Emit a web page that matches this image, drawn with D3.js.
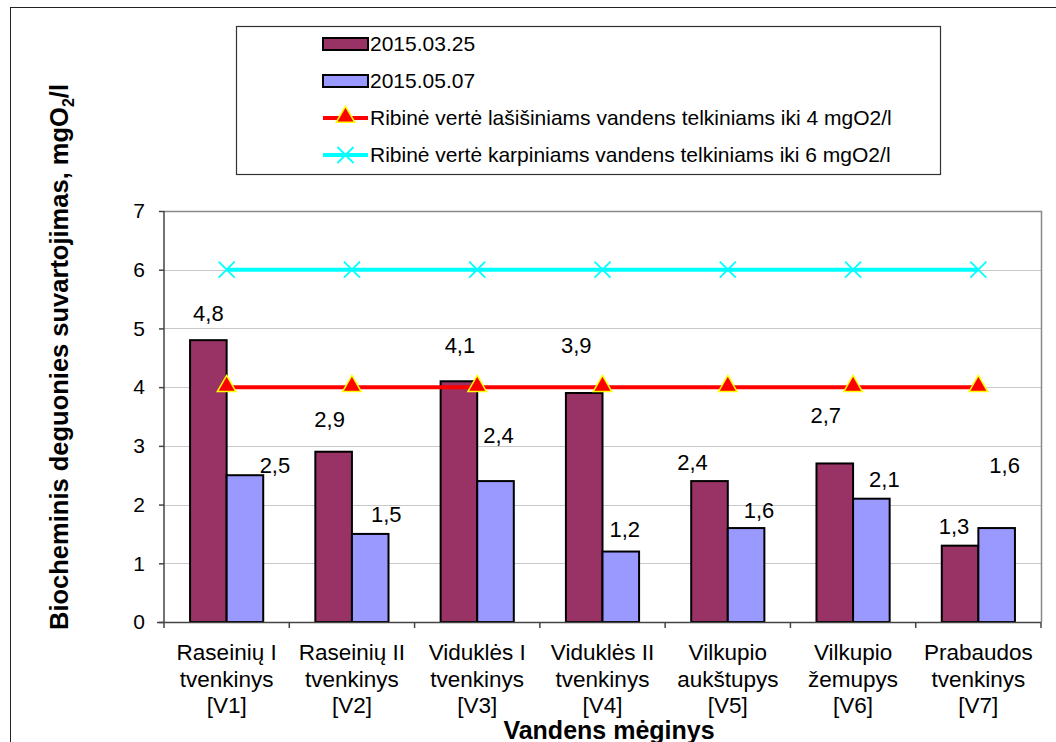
<!DOCTYPE html>
<html>
<head>
<meta charset="utf-8">
<script src="https://cdn.jsdelivr.net/npm/d3@7"></script>
<style>
  body { margin: 0; background: #fff; }
  svg text { font-family: "Liberation Sans", Arial, sans-serif; fill: #000; }
</style>
</head>
<body>
<svg width="1056" height="742"></svg>
<script>
// data
var categories = [
  ["Raseinių I", "tvenkinys", "[V1]"],
  ["Raseinių II", "tvenkinys", "[V2]"],
  ["Viduklės I", "tvenkinys", "[V3]"],
  ["Viduklės II", "tvenkinys", "[V4]"],
  ["Vilkupio", "aukštupys", "[V5]"],
  ["Vilkupio", "žemupys", "[V6]"],
  ["Prabaudos", "tvenkinys", "[V7]"]
];
var seriesNames = ["2015.03.25", "2015.05.07"];
var march = [4.8, 2.9, 4.1, 3.9, 2.4, 2.7, 1.3];
var may = [2.5, 1.5, 2.4, 1.2, 1.6, 2.1, 1.6];
var salmonLimit = [4, 4, 4, 4, 4, 4, 4];
var carpLimit = [6, 6, 6, 6, 6, 6, 6];
var lineNames = ["Ribinė vertė lašišiniams vandens telkiniams iki 4 mgO2/l",
                 "Ribinė vertė karpiniams vandens telkiniams iki 6 mgO2/l"];
var yTicks = [0, 1, 2, 3, 4, 5, 6, 7];

// label placement (Excel put them a bit all over the place), px from bar top centre
var marchLabelOff = [[0, -27], [-4, -32], [1, -36], [-8, -48], [-17, -19], [-9, -48], [-6, -19]];
var mayLabelOff = [[30, -10], [16, -20], [3, -46], [4, -22], [13, -18], [13, -19], [8, -63]];

var svg = d3.select("svg"),
    pLeft = 164, pRight = 1041, pTop = 211, pBottom = 622;

var font = "Liberation Sans, Arial, sans-serif";

// outer chart frame
svg.append("rect")
    .attr("x", 10.5).attr("y", 7.5)
    .attr("width", 1100).attr("height", 800)
    .attr("fill", "none").attr("stroke", "#222").attr("stroke-width", 1);

var x = d3.scaleBand().domain(d3.range(categories.length)).range([pLeft, pRight]);
var gap = x.bandwidth() * 0.208;
var x1 = d3.scaleBand().domain([0, 1]).range([gap, x.bandwidth() - gap]);
var y = d3.scaleLinear().domain([0, 7]).range([pBottom, pTop]);

// gridlines
svg.append("g").selectAll("line").data(yTicks.slice(1, -1)).enter().append("line")
    .attr("x1", pLeft).attr("x2", pRight)
    .attr("y1", function(d) { return Math.round(y(d)) + 0.5; })
    .attr("y2", function(d) { return Math.round(y(d)) + 0.5; })
    .attr("stroke", "#c8c8c8").attr("stroke-width", 1.2);

// plot area border (top / right)
svg.append("path")
    .attr("d", "M" + pLeft + "," + (pTop + 0.5) + "H" + (pRight + 0.5) + "V" + pBottom)
    .attr("fill", "none").attr("stroke", "#888").attr("stroke-width", 1.5);

// bars
var colors = ["#993366", "#9999ff"];
var seriesVals = [march, may];
seriesVals.forEach(function(vals, s) {
  svg.append("g").selectAll("rect").data(vals).enter().append("rect")
      .attr("x", function(d, i) { return x(i) + x1(s); })
      .attr("y", function(d) { return y(d); })
      .attr("width", x1.bandwidth())
      .attr("height", function(d) { return y(0) - y(d); })
      .attr("fill", colors[s])
      .attr("stroke", "#000").attr("stroke-width", 2);
});

// limit lines
var cx = function(d, i) { return x(i) + x.bandwidth() / 2; };
var lineGen = d3.line().x(cx).y(function(d) { return y(d); });

svg.append("path").datum(carpLimit).attr("d", lineGen)
    .attr("fill", "none").attr("stroke", "#00ffff").attr("stroke-width", 4);
svg.append("path").datum(salmonLimit).attr("d", lineGen)
    .attr("fill", "none").attr("stroke", "#ff0000").attr("stroke-width", 4);

var tri = d3.symbol().type(d3.symbolTriangle).size(150);
svg.append("g").selectAll("path").data(salmonLimit).enter().append("path")
    .attr("d", tri)
    .attr("transform", function(d, i) { return "translate(" + cx(d, i) + "," + (y(d) - 1) + ")"; })
    .attr("fill", "#ff0000").attr("stroke", "#ffff00").attr("stroke-width", 1.5);

var cross = function(g, px, py) {
  g.append("path")
    .attr("d", "M" + (px - 8) + "," + (py - 8) + "L" + (px + 8) + "," + (py + 8) +
               "M" + (px - 8) + "," + (py + 8) + "L" + (px + 8) + "," + (py - 8))
    .attr("stroke", "#00ffff").attr("stroke-width", 1.8);
};
var crossG = svg.append("g");
carpLimit.forEach(function(d, i) { cross(crossG, cx(d, i), y(d)); });

// data labels
function fmt(v) { return String(v.toFixed(1)).replace(".", ","); }
[[march, marchLabelOff, 0], [may, mayLabelOff, 1]].forEach(function(o) {
  svg.append("g").selectAll("text").data(o[0]).enter().append("text")
      .attr("x", function(d, i) { return x(i) + x1(o[2]) + x1.bandwidth() / 2 + o[1][i][0]; })
      .attr("y", function(d, i) { return y(d) + o[1][i][1]; })
      .attr("dy", "0.35em")
      .attr("text-anchor", "middle")
      .attr("font-size", 22)
      .text(fmt);
});

// y axis
var yAxis = svg.append("g").attr("transform", "translate(" + pLeft + ",0)")
    .call(d3.axisLeft(y).tickValues(yTicks).tickSize(5).tickPadding(14).tickFormat(d3.format("d")));
yAxis.select(".domain").attr("stroke", "#444").attr("stroke-width", 1.5).attr("d", "M0," + pBottom + "V" + pTop);
yAxis.selectAll(".tick line").attr("stroke", "#444").attr("stroke-width", 1.5);
yAxis.selectAll(".tick text").attr("font-size", 21).attr("font-family", font);

// x axis
var xAxisG = svg.append("g");
xAxisG.append("line").attr("x1", pLeft - 7).attr("x2", pRight)
    .attr("y1", pBottom + 0.5).attr("y2", pBottom + 0.5)
    .attr("stroke", "#444").attr("stroke-width", 1.5);
xAxisG.selectAll("line.t").data(d3.range(categories.length + 1)).enter().append("line")
    .attr("class", "t")
    .attr("x1", function(i) { return pLeft + i * x.step(); })
    .attr("x2", function(i) { return pLeft + i * x.step(); })
    .attr("y1", pBottom).attr("y2", pBottom + 6)
    .attr("stroke", "#444").attr("stroke-width", 1.5);

var catText = svg.append("g").selectAll("text").data(categories).enter().append("text")
    .attr("text-anchor", "middle")
    .attr("font-size", 22.5)
    .attr("x", function(d, i) { return x(i) + x.bandwidth() / 2; });
catText.selectAll("tspan").data(function(d) { return d; }).enter().append("tspan")
    .attr("x", function() { return this.parentNode.getAttribute("x"); })
    .attr("y", function(d, j) { return 660 + j * 26.5; })
    .text(function(d) { return d; });

// axis titles
svg.append("text")
    .attr("x", 609).attr("y", 739)
    .attr("text-anchor", "middle")
    .attr("font-size", 25).attr("font-weight", "bold")
    .text("Vandens mėginys");

var yt = svg.append("text")
    .attr("transform", "translate(68,357) rotate(-90)")
    .attr("text-anchor", "middle")
    .attr("font-size", 25.5).attr("font-weight", "bold");
yt.append("tspan").text("Biocheminis deguonies suvartojimas, mgO");
yt.append("tspan").attr("font-size", 16).attr("dy", 6).text("2");
yt.append("tspan").attr("dy", -6).text("/l");

// legend
var legend = svg.append("g");
legend.append("rect")
    .attr("x", 236.5).attr("y", 26.5).attr("width", 704).attr("height", 148)
    .attr("fill", "#fff").attr("stroke", "#333").attr("stroke-width", 1.2);

var rowY = [44, 81, 118, 155];
var sx = 323, sw = 45;
seriesNames.forEach(function(n, i) {
  legend.append("rect")
      .attr("x", sx).attr("y", rowY[i] - 6).attr("width", sw).attr("height", 12)
      .attr("fill", colors[i]).attr("stroke", "#000").attr("stroke-width", 2);
});
legend.append("line").attr("x1", sx).attr("x2", sx + sw)
    .attr("y1", rowY[2]).attr("y2", rowY[2])
    .attr("stroke", "#ff0000").attr("stroke-width", 4);
legend.append("path").attr("d", tri)
    .attr("transform", "translate(" + (sx + sw / 2) + "," + (rowY[2] - 1) + ")")
    .attr("fill", "#ff0000").attr("stroke", "#ffff00").attr("stroke-width", 1.5);
legend.append("line").attr("x1", sx).attr("x2", sx + sw)
    .attr("y1", rowY[3]).attr("y2", rowY[3])
    .attr("stroke", "#00ffff").attr("stroke-width", 4);
cross(legend, sx + sw / 2, rowY[3]);

seriesNames.concat(lineNames).forEach(function(n, i) {
  legend.append("text")
      .attr("x", sx + sw + 2).attr("y", rowY[i])
      .attr("dy", "0.35em")
      .attr("font-size", 21)
      .text(n);
});
</script>
</body>
</html>
